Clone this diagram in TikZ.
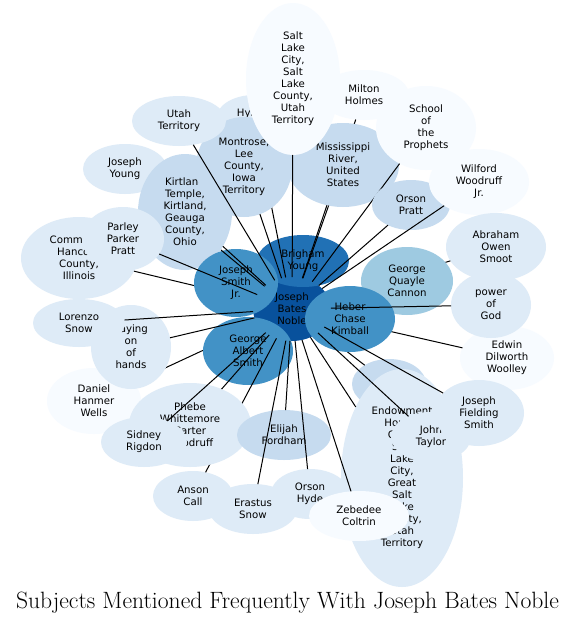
\documentclass[tikz,border=0pt]{standalone}
\usepackage{fontspec}
\newfontfamily\labfont{DejaVu Sans}
\usetikzlibrary{shapes.geometric}
\definecolor{cA}{HTML}{08519C}
\definecolor{cB}{HTML}{2171B5}
\definecolor{cC}{HTML}{4292C6}
\definecolor{cD}{HTML}{9ECAE1}
\definecolor{cE}{HTML}{C6DBEF}
\definecolor{cF}{HTML}{DEEBF7}
\definecolor{cG}{HTML}{F7FBFF}
\begin{document}
\begin{tikzpicture}[x=1pt,y=-1pt,
  nd/.style={ellipse, inner sep=0pt, outer sep=0pt, align=center,
    font=\labfont\fontsize{10.2}{12}\selectfont, text=black},
  sz/.style 2 args={minimum width=#1pt, minimum height=#2pt},
  ed/.style={draw=black, line width=1pt},
  ttl/.style={font=\fontsize{23.6}{26}\selectfont, anchor=base, inner sep=0pt}
]
\useasboundingbox (0,0) rectangle (576,625);
\fill[white] (0,0) rectangle (576,625);

% centre and core
\node[nd, fill=cA, sz={78}{64}] (jbn) at (292,309) {Joseph\\Bates\\Noble};
\node[nd, fill=cB, sz={92}{52}] (by) at (303,261) {Brigham\\Young};

% left upper group
\node[nd, fill=cF, sz={116}{82}] (com) at (79,258) {Commerce,\\Hancock\\County,\\Illinois};
\draw[ed] (com) -- (jbn);
\node[nd, fill=cF, sz={84}{50}] (jy) at (125,169) {Joseph\\Young};
\node[nd, fill=cE, sz={94}{116}] (kt) at (185,212) {Kirtland\\Temple,\\Kirtland,\\Geauga\\County,\\Ohio};
\node[nd, fill=cC, sz={84}{68}] (jsj) at (236,283) {Joseph\\Smith\\Jr.};
\coordinate (jyexit) at (221,250);
\draw[ed] (jyexit) -- (jbn);
\draw[ed] (kt) -- (jbn);
\node[nd, fill=cF, sz={82}{64}] (ppp) at (123,239) {Parley\\Parker\\Pratt};
\draw[ed] (ppp) -- (jbn);

% upper group
\node[nd, fill=cF, sz={76}{48}] (hs) at (254,119) {Hyrum\\Smith};
\draw[ed] (hs) -- (jbn);
\node[nd, fill=cE, sz={96}{100}] (mon) at (244,167) {Montrose,\\Lee\\County,\\Iowa\\Territory};
\draw[ed] (mon) -- (jbn);
\node[nd, fill=cF, sz={94}{50}] (ut) at (179,121) {Utah\\Territory};
\draw[ed] (ut) -- (jbn);
\node[nd, fill=cG, sz={90}{50}] (mh) at (364,95) {Milton\\Holmes};
\draw[ed] (mh) -- (jbn);
\node[nd, fill=cE, sz={112}{84}] (mis) at (343,165) {Mississippi\\River,\\United\\States};
\draw[ed] (mis) -- (jbn);
\node[nd, fill=cG, sz={94}{152}] (slc) at (293,79) {Salt\\Lake\\City,\\Salt\\Lake\\County,\\Utah\\Territory};
\draw[ed] (slc) -- (jbn);
\node[nd, fill=cG, sz={100}{84}] (sop) at (426,128) {School\\of\\the\\Prophets};
\draw[ed] (sop) -- (jbn);
\node[nd, fill=cE, sz={78}{50}] (op) at (411,205) {Orson\\Pratt};
\draw[ed] (op) -- (jbn);
\node[nd, fill=cG, sz={100}{66}] (ww) at (479,182) {Wilford\\Woodruff\\Jr.};
\draw[ed] (ww) -- (jbn);

% right group
\node[nd, fill=cF, sz={100}{68}] (aos) at (496,247) {Abraham\\Owen\\Smoot};
\draw[ed] (aos) -- (jbn);
\node[nd, fill=cD, sz={92}{68}] (gqc) at (407,281) {George\\Quayle\\Cannon};
\draw[ed] (gqc) -- (jbn);
\node[nd, fill=cG, sz={94}{64}] (edw) at (507,358) {Edwin\\Dilworth\\Woolley};
\draw[ed] (edw) -- (jbn);
\node[nd, fill=cF, sz={80}{66}] (pog) at (491,305) {power\\of\\God};
\node[nd, fill=cE, sz={74}{50}] (hid) at (389,384) {};
\draw[ed] (hid) -- (jbn);
\node[nd, fill=cC, sz={90}{66}] (hck) at (350,319) {Heber\\Chase\\Kimball};
\draw[ed] (pog) -- (jbn);
\node[nd, fill=cF, sz={122}{218}] (eh) at (402,478) {Endowment\\House,\\Great\\Salt\\Lake\\City,\\Great\\Salt\\Lake\\County,\\Utah\\Territory};
\draw[ed] (eh) -- (jbn);
\node[nd, fill=cF, sz={80}{50}] (jt) at (431,437) {John\\Taylor};
\draw[ed] (jt) -- (jbn);
\node[nd, fill=cF, sz={90}{66}] (jfs) at (479,413) {Joseph\\Fielding\\Smith};
\draw[ed] (jfs) -- (jbn);

% lower left group
\node[nd, fill=cG, sz={94}{66}] (dhw) at (94,401) {Daniel\\Hanmer\\Wells};
\draw[ed] (dhw) -- (jbn);
\node[nd, fill=cC, sz={90}{68}] (gas) at (248,351) {George\\Albert\\Smith};
\node[nd, fill=cF, sz={80}{84}] (loh) at (131,347) {Laying\\on\\of\\hands};
\draw[ed] (loh) -- (jbn);
\node[nd, fill=cF, sz={92}{48}] (ls) at (79,323) {Lorenzo\\Snow};
\draw[ed] (ls) -- (jbn);
\node[nd, fill=cF, sz={80}{50}] (ac) at (193,496) {Anson\\Call};
\draw[ed] (ac) -- (jbn);
\node[nd, fill=cF, sz={122}{84}] (pwc) at (190,425) {Phebe\\Whittemore\\Carter\\Woodruff};
\draw[ed] (pwc) -- (jbn);
\node[nd, fill=cF, sz={86}{50}] (sr) at (144,442) {Sidney\\Rigdon};
\draw[ed] (sr) -- (jbn);

% bottom group
\node[nd, fill=cE, sz={94}{50}] (ef) at (284,435) {Elijah\\Fordham};
\draw[ed] (ef) -- (jbn);
\node[nd, fill=cF, sz={88}{50}] (es) at (253,509) {Erastus\\Snow};
\draw[ed] (es) -- (jbn);
\node[nd, fill=cF, sz={78}{50}] (oh) at (310,494) {Orson\\Hyde};
\draw[ed] (oh) -- (jbn);
\node[nd, fill=cG, sz={100}{50}] (zc) at (359,516) {Zebedee\\Coltrin};
\draw[ed] (zc) -- (jbn);

% title
\node[ttl] (title) at (287.5,608) {Subjects Mentioned Frequently With Joseph Bates Noble};
\end{tikzpicture}
\end{document}
